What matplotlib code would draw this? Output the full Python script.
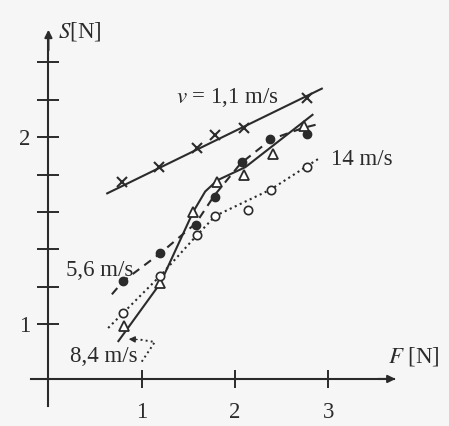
import matplotlib
matplotlib.use('Agg')
import matplotlib.pyplot as plt

plt.rcParams['font.family'] = ['Liberation Serif', 'DejaVu Serif']
plt.rcParams['mathtext.fontset'] = 'stix'

ink = '#2b2b2b'

# measured points, F [N] vs S [N]
# v = 1,1 m/s  (crosses, solid line)
F_11 = [0.79, 1.18, 1.59, 1.79, 2.10, 2.77]
S_11 = [1.76, 1.84, 1.94, 2.01, 2.05, 2.21]
fit_11_F = [0.63, 2.93]
fit_11_S = [1.70, 2.26]

# 5,6 m/s  (filled circles, dashed line)
F_56 = [0.80, 1.20, 1.58, 1.78, 2.07, 2.37, 2.77]
S_56 = [1.23, 1.38, 1.53, 1.68, 1.87, 1.99, 2.02]
fit_56_F = [0.68, 0.80, 1.20, 1.58, 1.78, 2.06, 2.39, 2.73, 2.89]
fit_56_S = [1.16, 1.23, 1.38, 1.54, 1.69, 1.86, 1.99, 2.05, 2.07]

# 8,4 m/s  (open triangles, solid line)
F_84 = [0.81, 1.20, 1.55, 1.81, 2.10, 2.41, 2.74]
S_84 = [0.99, 1.22, 1.60, 1.76, 1.80, 1.91, 2.06]
fit_84_F = [0.75, 1.20, 1.55, 1.68, 1.81, 2.11, 2.83]
fit_84_S = [0.91, 1.22, 1.60, 1.71, 1.77, 1.84, 2.12]

# 14 m/s  (open circles, dotted line)
F_14 = [0.80, 1.20, 1.59, 1.79, 2.14, 2.38, 2.77]
S_14 = [1.06, 1.26, 1.48, 1.58, 1.61, 1.72, 1.84]
fit_14_F = [0.64, 1.20, 1.58, 1.79, 2.38, 2.91]
fit_14_S = [0.98, 1.26, 1.47, 1.58, 1.72, 1.89]

x_ticks = [1, 2, 3]
y_ticks = [1.0, 1.2, 1.4, 1.6, 1.8, 2.0, 2.2, 2.4]
y_tick_labels = ['1', '', '', '', '', '2', '', '']

fig = plt.figure(figsize=(4.49, 4.26), dpi=100, facecolor='#f6f6f6')
ax = fig.add_axes([0, 0, 1, 1])
ax.set_facecolor('#f6f6f6')
ax.set_xlim(-0.519, 4.293)
ax.set_ylim(0.456, 2.734)

# fitted curves
ax.plot(fit_11_F, fit_11_S, '-', color=ink, lw=1.5)
ax.plot(fit_56_F, fit_56_S, '--', color=ink, lw=1.5, dashes=(4, 3))
ax.plot(fit_84_F, fit_84_S, '-', color=ink, lw=1.5)
ax.plot(fit_14_F, fit_14_S, ':', color=ink, lw=1.5)

# measured points
ax.plot(F_11, S_11, 'x', color=ink, ms=6.5, mew=1.5)
ax.plot(F_56, S_56, 'o', color=ink, ms=6)
ax.plot(F_84, S_84, '^', mfc='white', mec=ink, ms=7.5, mew=1.3)
ax.plot(F_14, S_14, 'o', mfc='white', mec=ink, ms=6, mew=1.2)

# axes crossing at F = 0
ax.spines['top'].set_visible(False)
ax.spines['right'].set_visible(False)
ax.spines['left'].set_position(('data', 0))
ax.spines['bottom'].set_position(('data', 0.7075))
ax.spines['left'].set_bounds(0.563, 2.55)
ax.spines['bottom'].set_bounds(-0.19, 3.70)
for s in ('left', 'bottom'):
    ax.spines[s].set_color(ink)
    ax.spines[s].set_linewidth(1.5)

ax.annotate('', xy=(0, 2.59), xytext=(0, 2.45),
            arrowprops=dict(arrowstyle='-|>', color=ink, lw=1.5, mutation_scale=11))
ax.annotate('', xy=(3.75, 0.7075), xytext=(3.5, 0.7075),
            arrowprops=dict(arrowstyle='-|>', color=ink, lw=1.5, mutation_scale=11))

ax.set_xticks(x_ticks)
ax.set_xticklabels([str(t) for t in x_ticks])
ax.set_yticks(y_ticks)
ax.set_yticklabels(y_tick_labels)
ax.tick_params(axis='y', direction='inout', length=16, width=1.4, color=ink,
               labelsize=16.5, pad=5, labelcolor=ink)
ax.tick_params(axis='x', direction='inout', length=13, width=1.4, color=ink,
               labelsize=16.5, pad=10, labelcolor=ink)

# axis titles
ax.text(0.10, 2.568, '$S$[N]', fontsize=16.5, color=ink, ha='left', va='center')
ax.text(3.64, 0.83, '$F$ [N]', fontsize=16.5, color=ink, ha='left', va='center')

# curve labels
ax.text(1.37, 2.21, '$v$ = 1,1 m/s', fontsize=16.5, color=ink, ha='left', va='center')
ax.text(3.03, 1.879, '14 m/s', fontsize=16.5, color=ink, ha='left', va='center')
ax.text(0.19, 1.285, '5,6 m/s', fontsize=16.5, color=ink, ha='left', va='center')
ax.text(0.23, 0.825, '8,4 m/s', fontsize=16.5, color=ink, ha='left', va='center')

# dotted pointer for 8,4 m/s
ax.plot([1.00, 1.14, 0.98], [0.80, 0.905, 0.918], ':', color=ink, lw=1.4)
ax.annotate('', xy=(0.83, 0.921), xytext=(0.98, 0.918),
            arrowprops=dict(arrowstyle='-|>', color=ink, lw=1.0, mutation_scale=9))

fig.savefig('out.png', dpi=100, facecolor=fig.get_facecolor())
